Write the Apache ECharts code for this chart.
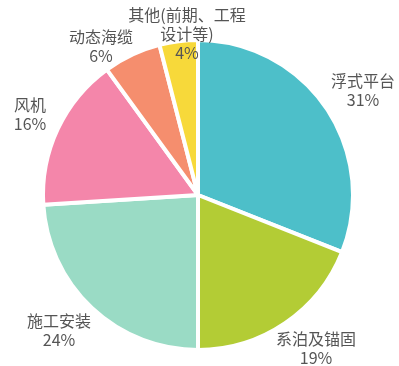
<!DOCTYPE html>
<html><head><meta charset="utf-8">
<script src="https://cdn.jsdelivr.net/npm/echarts@6/dist/echarts.min.js"></script>
<style>html,body{margin:0;padding:0;background:#fff}#c{width:399px;height:366px}</style>
</head><body><div id="c"></div>
<script>
const categories = ['浮式平台', '系泊及锚固', '施工安装', '风机', '动态海缆', '其他(前期、工程\n设计等)'];
const values = [31, 19, 24, 16, 6, 4];
const colors = ['#4dbfc9', '#b3cc35', '#9adbc5', '#f486aa', '#f58e6e', '#f7d93a'];
// label block centres (layout only)
const labelPos = [[363, 90], [316, 348], [59, 330], [30, 114], [101, 46], [187, 34]];

const chart = echarts.init(document.getElementById('c'));
chart.setOption({
  animation: false,
  series: [{
    type: 'pie',
    center: [198, 195],
    radius: [0, 155],
    startAngle: 90,
    clockwise: true,
    data: categories.map((n, i) => ({ name: n, value: values[i], itemStyle: { color: colors[i] } })),
    itemStyle: { borderColor: '#fff', borderWidth: 4 },
    label: {
      show: true,
      position: 'outside',
      formatter: p => p.name + '\n' + p.value + '%',
      color: '#555',
      fontSize: 16,
      lineHeight: 19,
      align: 'center',
      overflow: 'none',
      fontFamily: 'Noto Sans CJK SC'
    },
    labelLine: { show: false },
    labelLayout: p => ({ x: labelPos[p.dataIndex][0], y: labelPos[p.dataIndex][1], align: 'center', verticalAlign: 'middle' })
  }]
});
</script></body></html>
